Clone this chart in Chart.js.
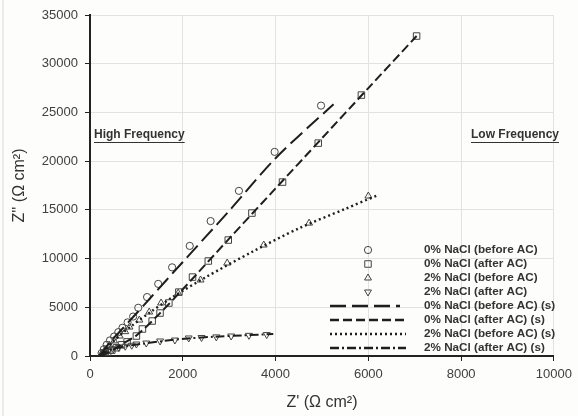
<!DOCTYPE html>
<html>
<head>
<meta charset="utf-8">
<script src="https://cdn.jsdelivr.net/npm/chart.js@4.4.0/dist/chart.umd.min.js"></script>
<style>
  html, body { margin: 0; padding: 0; background: #fdfdfc; }
  #wrap { width: 578px; height: 416px; position: relative; }
</style>
</head>
<body>
<div id="wrap"><canvas id="chart" width="578" height="416"></canvas></div>
<script>
// measured points
const before0X = [250, 300, 360, 430, 520, 610, 700, 810, 930, 1040, 1230, 1470, 1770, 2150, 2600, 3210, 3980, 4980];
const before0Y = [300, 700, 1150, 1600, 2000, 2450, 2900, 3450, 4050, 4950, 6050, 7400, 9100, 11300, 13850, 16950, 20950, 25700];

const after0X = [300, 380, 470, 570, 680, 800, 1000, 1130, 1340, 1510, 1700, 1915, 2210, 2550, 2980, 3490, 4150, 4920, 5850, 7040];
const after0Y = [150, 350, 600, 850, 1150, 1450, 2050, 2770, 3590, 4410, 5440, 6560, 8100, 9750, 11900, 14670, 17850, 21850, 26780, 32840];

const before2X = [250, 330, 420, 520, 640, 760, 851, 1064, 1277, 1532, 1900, 2383, 2957, 3745, 4723, 6000];
const before2Y = [250, 650, 1100, 1550, 2050, 2500, 2970, 3690, 4510, 5440, 6450, 7800, 9540, 11390, 13640, 16420];

const after2X = [320, 400, 500, 620, 760, 900, 1000, 1213, 1511, 1830, 2128, 2404, 2723, 3043, 3426, 3809];
const after2Y = [400, 550, 720, 880, 1000, 1100, 1230, 1330, 1540, 1640, 1850, 1900, 1960, 2050, 2120, 2200];

// simulated curves (s)
const simBefore0X = [200, 260, 330, 420, 530, 680, 900, 1300, 2000, 3000, 4000, 5250];
const simBefore0Y = [0, 350, 800, 1350, 1950, 2700, 3850, 5950, 9650, 14900, 20300, 25850];

const simAfter0X = [250, 350, 500, 700, 1000, 1500, 2000, 3000, 4000, 5000, 6000, 7040];
const simAfter0Y = [0, 250, 650, 1250, 2100, 4350, 6850, 12050, 17200, 22350, 27500, 32840];

const simBefore2X = [200, 300, 450, 650, 900, 1300, 1800, 2500, 3500, 4500, 5500, 6200];
const simBefore2Y = [0, 500, 1250, 2150, 3100, 4500, 6100, 8100, 10700, 13100, 15100, 16500];

const simAfter2X = [200, 300, 450, 650, 900, 1200, 1600, 2100, 2700, 3300, 3950];
const simAfter2Y = [0, 350, 650, 900, 1100, 1300, 1550, 1800, 1980, 2120, 2250];

const xTicks = [0, 2000, 4000, 6000, 8000, 10000];
const yTicks = [0, 5000, 10000, 15000, 20000, 25000, 30000, 35000];

const labels = [
  "0% NaCl (before AC)", "0% NaCl (after AC)", "2% NaCl (before AC)", "2% NaCl (after AC)",
  "0% NaCl (before AC) (s)", "0% NaCl (after AC) (s)", "2% NaCl (before AC) (s)", "2% NaCl (after AC) (s)"
];

const zip = (xs, ys) => xs.map((x, i) => ({ x: x, y: ys[i] }));

function markerSet(label, xs, ys, style, r, rot) {
  return {
    label: label,
    data: zip(xs, ys),
    showLine: false,
    pointStyle: style,
    rotation: rot || 0,
    pointRadius: r,
    pointBorderWidth: 1,
    pointBorderColor: "#444",
    pointBackgroundColor: "rgba(255,255,255,0)",
    borderColor: "#444",
    order: 2,
  };
}

function lineSet(label, xs, ys, dash, w) {
  return {
    label: label,
    data: zip(xs, ys),
    showLine: true,
    pointRadius: 0,
    borderColor: "#1e1e1e",
    borderWidth: w,
    borderDash: dash,
    tension: 0.3,
    order: 1,
  };
}

const datasets = [
  markerSet(labels[0], before0X, before0Y, "circle", 3.6),
  markerSet(labels[1], after0X, after0Y, "rect", 4.6),
  markerSet(labels[2], before2X, before2Y, "triangle", 4),
  markerSet(labels[3], after2X, after2Y, "triangle", 4, 180),
  lineSet(labels[4], simBefore0X, simBefore0Y, [16, 6], 2),
  lineSet(labels[5], simAfter0X, simAfter0Y, [9, 4], 2),
  lineSet(labels[6], simBefore2X, simBefore2Y, [2, 3], 2.4),
  lineSet(labels[7], simAfter2X, simAfter2Y, [9, 3, 2, 3], 2),
];

// legend inside plot + frequency notes
const extras = {
  id: "extras",
  beforeDraw(chart) {
    const ctx = chart.ctx;
    ctx.save();
    ctx.strokeStyle = "#e4e4e4";
    ctx.lineWidth = 1.5;
    ctx.beginPath();
    ctx.moveTo(3, 0);
    ctx.lineTo(3, 416);
    ctx.stroke();
    ctx.restore();
  },
  afterDraw(chart) {
    const ctx = chart.ctx;
    ctx.save();

    // notes
    ctx.font = "bold 12px 'Liberation Sans', Arial, sans-serif";
    ctx.fillStyle = "#333";
    ctx.textBaseline = "middle";
    const notes = [["High Frequency", 94], ["Low Frequency", 471]];
    notes.forEach(([t, x]) => {
      const y = 135;
      ctx.fillText(t, x, y);
      const w = ctx.measureText(t).width;
      ctx.strokeStyle = "#333";
      ctx.lineWidth = 1;
      ctx.beginPath();
      ctx.moveTo(x, y + 7.5);
      ctx.lineTo(x + w, y + 7.5);
      ctx.stroke();
    });

    // legend
    ctx.font = "bold 11.7px 'Liberation Sans', Arial, sans-serif";
    const textX = 424, markX = 368, lineX0 = 330, lineX1 = 406;
    const rowY = [250, 264, 278, 292, 306, 320, 334, 348];
    chart.data.datasets.forEach((ds, i) => {
      const y = rowY[i];
      if (ds.showLine) {
        ctx.strokeStyle = "#1e1e1e";
        ctx.lineWidth = ds.borderWidth + 0.3;
        ctx.setLineDash(ds.borderDash);
        ctx.beginPath();
        ctx.moveTo(lineX0, y);
        ctx.lineTo(i === 4 ? 400 : lineX1, y);
        ctx.stroke();
        ctx.setLineDash([]);
      } else {
        ctx.strokeStyle = "#444";
        ctx.fillStyle = "rgba(255,255,255,0)";
        ctx.lineWidth = 1;
        Chart.helpers.drawPoint(ctx, {
          pointStyle: ds.pointStyle, radius: ds.pointRadius, rotation: ds.rotation, borderWidth: 1
        }, markX, y);
      }
      ctx.fillStyle = "#333";
      ctx.fillText(ds.label, textX, y);
    });
    ctx.restore();
  }
};

new Chart(document.getElementById("chart"), {
  type: "scatter",
  data: { datasets: datasets },
  options: {
    responsive: false,
    animation: false,
    layout: { padding: { left: 6, right: 18, top: 15, bottom: 0 } },
    plugins: {
      legend: { display: false },
      tooltip: { enabled: false },
    },
    scales: {
      x: {
        type: "linear",
        min: 0,
        max: 10000,
        afterBuildTicks: (s) => { s.ticks = xTicks.map(v => ({ value: v })); },
        afterFit: (s) => { s.height = 60; },
        ticks: {
          color: "#404040",
          padding: 6,
          font: { family: "'Liberation Sans', Arial, sans-serif", size: 13 },
          callback: (v) => String(v),
        },
        grid: { color: "#e2e2e2", lineWidth: 1, tickColor: "#222", tickLength: 5 },
        border: { display: true, color: "#222", width: 2 },
        title: {
          display: true,
          text: "Z' (Ω cm²)",
          color: "#333",
          padding: { top: 0, bottom: 4 },
          font: { family: "'Liberation Sans', Arial, sans-serif", size: 16 },
        },
      },
      y: {
        type: "linear",
        min: 0,
        max: 35000,
        afterBuildTicks: (s) => { s.ticks = yTicks.map(v => ({ value: v })); },
        afterFit: (s) => { s.width = 84; },
        ticks: {
          color: "#404040",
          padding: 7,
          font: { family: "'Liberation Sans', Arial, sans-serif", size: 13 },
          callback: (v) => String(v),
        },
        grid: { color: "#e2e2e2", lineWidth: 1, tickColor: "#222", tickLength: 5 },
        border: { display: true, color: "#222", width: 2 },
        title: {
          display: true,
          text: "Z'' (Ω cm²)",
          color: "#333",
          padding: { top: 4, bottom: 0 },
          font: { family: "'Liberation Sans', Arial, sans-serif", size: 16 },
        },
      },
    },
  },
  plugins: [extras],
});
</script>
</body>
</html>
